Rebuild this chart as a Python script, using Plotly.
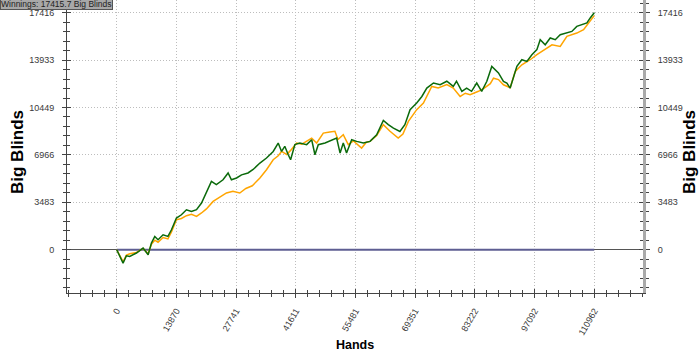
import plotly.graph_objects as go

# ---- data ----
green_hands = [0,1470,2250,3020,4580,6120,7300,8060,8840,9600,10770,11900,12720,13870,15030,16200,17370,18540,19700,20840,22000,23150,24700,25880,26650,27840,29000,30500,31700,33270,34800,36360,37520,38300,39050,39850,40400,41400,42550,44130,45300,46060,46830,48400,49950,51100,51900,52640,53400,54600,55750,57300,58860,60400,61950,63100,64300,65800,66950,68160,69700,70900,72050,73600,75150,76700,78200,78950,80200,81300,82450,83650,84800,86000,87150,87900,88700,89860,90650,91420,92200,92980,94140,95300,96470,97630,98400,99560,100730,101900,103050,104600,105750,106900,108080,109250,110020,110962]
green_bb = [0,-980,-440,-490,-240,125,-370,490,980,740,1100,980,1470,2330,2570,2940,2820,2940,3430,4280,5020,4780,5140,5640,5140,5270,5500,5640,5900,6370,6740,7220,7840,7220,7600,6980,6610,7720,7840,7720,8080,6980,7720,7840,8080,8200,7100,7840,7100,8080,7960,7840,7960,8450,9500,9190,8940,8690,9190,10290,10780,11260,11880,12250,12130,12380,12000,12380,11640,11880,11640,12250,11640,12380,13470,13230,12990,12370,12250,11880,12620,13470,13960,13840,14330,14700,15430,15060,15560,15430,15800,15920,16040,16410,16540,16660,17030,17416]

orange_hands = [0,1470,2250,3020,4580,6120,7300,8060,8840,9600,10770,11900,12720,13870,15030,16200,17370,18540,19700,20840,22400,24000,25500,27000,28600,30000,31500,33270,34800,36360,37520,38300,39500,40400,41800,43000,44130,45300,46460,48000,49500,50700,51400,52640,53800,55000,56900,58000,58860,60400,61950,63500,65400,66500,67770,69700,71260,73200,74700,76700,78200,79800,81000,82100,84050,85400,86800,87550,88700,89860,91420,92600,94140,96070,97630,99560,101130,103050,104600,106900,108480,109640,110962]
orange_bb = [0,-880,-400,-300,-200,100,-300,400,700,550,900,800,1300,2200,2300,2500,2600,2450,2700,3000,3550,3900,4170,4300,4170,4500,4700,5270,5880,6610,6900,7220,7000,7300,7840,7750,7960,8200,7840,8570,8650,8700,8100,8450,7720,8000,7470,7900,7960,8400,9190,8700,8200,8500,9430,10290,10780,12000,11880,12130,11880,11260,11500,11390,11640,11880,12200,12600,12500,12120,11900,13100,13590,13960,14330,14700,15060,14940,15680,15920,16170,16660,17200]

baseline_hands = [0, 110962]
baseline_bb = [0, 0]

x_ticks = [0, 13870, 27741, 41611, 55481, 69351, 83222, 97092, 110962]
y_ticks = [0, 3483, 6966, 10449, 13933, 17416]

X_RANGE = [-11555, 122285]
Y_RANGE = [-3178, 18348]

fig = go.Figure()
fig.add_trace(go.Scatter(x=baseline_hands, y=baseline_bb, mode="lines",
                         line=dict(color="#5e5e92", width=2), showlegend=False))
fig.add_trace(go.Scatter(x=orange_hands, y=orange_bb, mode="lines",
                         line=dict(color="#ffa500", width=1.5), showlegend=False))
fig.add_trace(go.Scatter(x=green_hands, y=green_bb, mode="lines",
                         line=dict(color="#0b6a0b", width=1.5), showlegend=False))
# invisible traces for overlay axes (crossing ticks)
fig.add_trace(go.Scatter(x=[None], y=[None], xaxis="x2", yaxis="y3", showlegend=False, hoverinfo="skip"))
fig.add_trace(go.Scatter(x=[None], y=[None], xaxis="x", yaxis="y2", showlegend=False, hoverinfo="skip"))
fig.add_trace(go.Scatter(x=[None], y=[None], xaxis="x", yaxis="y4", showlegend=False, hoverinfo="skip"))

tickfont = dict(family="Liberation Sans, Arial", size=9, color="#3a3a3a")
xdt = (x_ticks[-1]) / 8 / 5
ydt = (y_ticks[-1]) / 5 / 5
GRID = dict(showgrid=True, gridcolor="#bdbdbd", griddash="1px,2px", gridwidth=1)

fig.update_layout(
    width=700, height=354,
    margin=dict(l=67, r=57, t=0, b=61),
    paper_bgcolor="white", plot_bgcolor="white",
    font=dict(family="Liberation Sans, Arial"),
    xaxis=dict(range=X_RANGE, tickmode="array", tickvals=x_ticks,
               ticktext=[str(v) for v in x_ticks], tickangle=-60,
               tickfont=tickfont, ticks="outside", ticklen=4, tickcolor="#444",
               showline=True, linecolor="#444", linewidth=1,
               zeroline=False, ticklabelstandoff=4,
               minor=dict(ticks="outside", ticklen=3, tick0=0, dtick=xdt,
                          tickcolor="#444", showgrid=False), **GRID),
    xaxis2=dict(range=X_RANGE, overlaying="x", anchor="y3", side="bottom",
                tickmode="array", tickvals=x_ticks, showticklabels=False,
                ticks="inside", ticklen=4, tickcolor="#444", showgrid=False,
                zeroline=False, showline=False,
                minor=dict(ticks="inside", ticklen=3, tick0=0, dtick=xdt, tickcolor="#444")),
    yaxis=dict(range=Y_RANGE, tickmode="array", tickvals=y_ticks,
               ticktext=[str(v) for v in y_ticks], tickfont=tickfont,
               ticks="outside", ticklen=4, tickcolor="#444",
               showline=True, linecolor="#444", linewidth=1,
               zeroline=True, zerolinecolor="#555555", zerolinewidth=1,
               ticklabelstandoff=6,
               minor=dict(ticks="outside", ticklen=3, tick0=0, dtick=ydt,
                          tickcolor="#444", showgrid=False), **GRID),
    yaxis3=dict(range=Y_RANGE, overlaying="y", anchor="x2", side="left",
                tickmode="array", tickvals=y_ticks, showticklabels=False,
                ticks="inside", ticklen=4, tickcolor="#444", showgrid=False,
                zeroline=False, showline=False,
                minor=dict(ticks="inside", ticklen=3, tick0=0, dtick=ydt, tickcolor="#444")),
    yaxis2=dict(range=Y_RANGE, overlaying="y", side="right", anchor="x",
                tickmode="array", tickvals=y_ticks,
                ticktext=[str(v) for v in y_ticks], tickfont=tickfont,
                ticks="outside", ticklen=4, tickcolor="#444",
                showline=True, linecolor="#aaaaaa", linewidth=3,
                showgrid=False, zeroline=False, ticklabelstandoff=6,
                minor=dict(ticks="outside", ticklen=3, tick0=0, dtick=ydt, tickcolor="#444")),
    yaxis4=dict(range=Y_RANGE, overlaying="y", side="right", anchor="x",
                tickmode="array", tickvals=y_ticks, showticklabels=False,
                ticks="inside", ticklen=4, tickcolor="#444",
                showgrid=False, zeroline=False, showline=False,
                minor=dict(ticks="inside", ticklen=3, tick0=0, dtick=ydt, tickcolor="#444")),
    annotations=[
        dict(text="<b>Big Blinds</b>", xref="paper", yref="paper",
             x=-49/576, y=(293-152)/293, xanchor="center", yanchor="middle",
             textangle=-90, showarrow=False,
             font=dict(family="Liberation Sans, Arial", size=17, color="black")),
        dict(text="<b>Big Blinds</b>", xref="paper", yref="paper",
             x=1+47/576, y=(293-152)/293, xanchor="center", yanchor="middle",
             textangle=-90, showarrow=False,
             font=dict(family="Liberation Sans, Arial", size=17, color="black")),
        dict(text="<b>Hands</b>", xref="paper", yref="paper",
             x=(355-67)/576, y=-(345-293)/293, xanchor="center", yanchor="middle",
             showarrow=False,
             font=dict(family="Liberation Sans, Arial", size=12.5, color="black")),
        dict(text="Winnings: 17415.7 Big Blinds", xref="paper", yref="paper",
             x=-67/576, y=1, xanchor="left", yanchor="top", showarrow=False,
             yshift=2,
             bgcolor="#a8a8a8", bordercolor="#555555", borderwidth=1, borderpad=0,
             font=dict(family="Liberation Sans, Arial", size=8.5, color="#222222")),
    ],
)

fig.write_html("out.html")
